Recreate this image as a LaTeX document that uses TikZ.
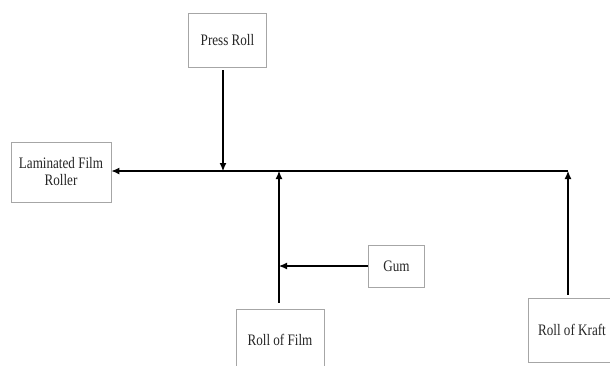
\documentclass[tikz,border=0pt]{standalone}
\usepackage{fontspec}
\newfontfamily\boxfont[FakeStretch=0.82]{Liberation Serif}
\usepackage{tikz}
\usetikzlibrary{arrows.meta, positioning, calc}

\begin{document}
\begin{tikzpicture}[
        x=1pt, y=1pt,
        box/.style={rectangle, draw=gray!70, line width=0.9pt, fill=white, align=center, inner sep=2pt, text=black!85, font=\boxfont\fontsize{16}{17}\selectfont},
        arr/.style={-{Latex[length=8pt, width=7pt]}, line width=1.1pt}
    ]
        \useasboundingbox (0,0) rectangle (610,-365);

        % Boxes
        \node[box, minimum width=78pt, minimum height=54pt] (press) at (227.5,-40) {Press Roll};
        \node[box, minimum width=100pt, minimum height=60pt] (lam) at (61,-172) {Laminated Film\\Roller};
        \node[box, minimum width=56pt, minimum height=42pt] (gum) at (396.5,-266) {Gum};
        \node[box, minimum width=88pt, minimum height=62pt] (film) at (280,-340) {Roll of Film};
        \node[box, minimum width=88pt, minimum height=64pt] (kraft) at (572,-330) {Roll of Kraft};

        % Junctions on the main line
        \coordinate (jp) at (223,-171);
        \coordinate (jf) at (279,-171);
        \coordinate (jk) at (568,-171);

        % Main line to the roller
        \draw[arr] (jk) -- (jk -| lam.east);

        % Feeds into the main line
        \draw[arr] ([yshift=-3pt]press.south -| jp) -- (jp);
        \draw[arr] ([yshift=6pt]film.north -| jf) -- (jf);
        \draw[arr] ([yshift=3pt]kraft.north -| jk) -- (jk);
        \draw[arr] (gum.west) -- (gum.west -| jf);
    \end{tikzpicture}
\end{document}
